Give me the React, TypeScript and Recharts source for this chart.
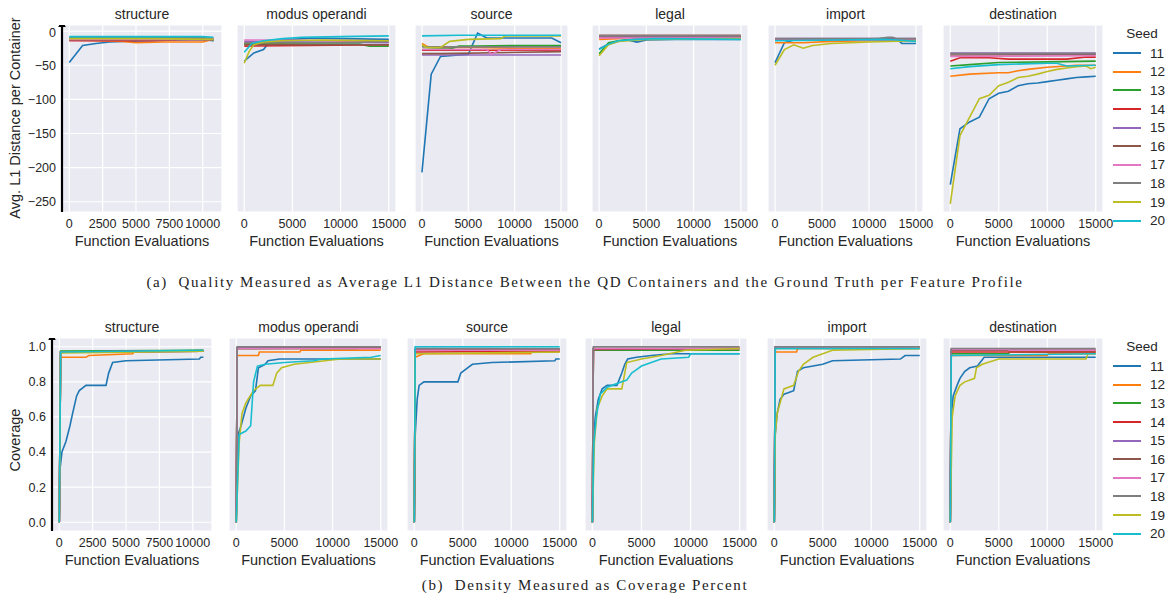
import React from "react";
import { LineChart, Line, XAxis, YAxis, CartesianGrid } from "recharts";

const seeds = [11, 12, 13, 14, 15, 16, 17, 18, 19, 20];
const seedColors = [
  "#1f77b4", "#ff7f0e", "#2ca02c", "#d62728", "#9467bd",
  "#8c564b", "#e377c2", "#7f7f7f", "#bcbd22", "#17becf",
];
const features = ["structure", "modus operandi", "source", "legal", "import", "destination"];

const xTicksStructure = [0, 2500, 5000, 7500, 10000];
const xTicksOther = [0, 5000, 10000, 15000];
const qualityTicks = [-250, -200, -150, -100, -50, 0];
const coverageTicks = [0, 0.2, 0.4, 0.6, 0.8, 1.0];

// [function evaluations, avg L1 distance], one list per seed 11..20
const qualityStructure = [
  [[0, -46], [1000, -21], [2000, -18], [3000, -16], [4000, -15], [6000, -14], [8000, -13], [9000, -12], [10000, -12], [10800, -14]],
  [[0, -13], [2000, -14], [4000, -15], [5000, -17], [7000, -16], [9000, -16], [10000, -16], [10800, -12]],
  [[0, -9], [5000, -9], [8000, -9], [10000, -9], [10800, -14]],
  [[0, -14], [3000, -14], [6000, -14], [8000, -13], [8500, -10], [10000, -11], [10800, -12]],
  [[0, -11], [10800, -11]],
  [[0, -13], [10800, -13]],
  [[0, -12], [10800, -12]],
  [[0, -10], [10800, -10]],
  [[0, -11], [6000, -11], [10800, -12]],
  [[0, -8], [10000, -8], [10800, -9]],
];
const qualityModus = [
  [[0, -44], [1000, -32], [2000, -27], [2500, -18], [3000, -14], [5000, -12], [7000, -10], [10000, -11], [15000, -12]],
  [[0, -18], [3000, -18], [6000, -17], [10000, -16], [15000, -16]],
  [[0, -19], [5000, -19], [10000, -19], [12000, -19], [13000, -22], [15000, -22]],
  [[0, -22], [15000, -20]],
  [[0, -15], [15000, -17]],
  [[0, -20], [15000, -20]],
  [[0, -13], [15000, -14]],
  [[0, -17], [10000, -17], [15000, -15]],
  [[0, -47], [500, -30], [1000, -20], [2000, -16], [4000, -14], [8000, -13], [15000, -14]],
  [[0, -31], [800, -18], [2000, -14], [4000, -11], [6000, -9], [10000, -8], [15000, -7]],
];
const qualitySource = [
  [[0, -207], [1000, -63], [2000, -37], [3000, -36], [4000, -35], [5000, -34], [6000, -3], [7000, -10], [10000, -10], [14000, -10], [15000, -17]],
  [[0, -18], [500, -22], [1000, -24], [3000, -24], [6000, -24], [10000, -25], [15000, -25]],
  [[0, -27], [3000, -26], [4000, -22], [6000, -22], [10000, -21], [15000, -21]],
  [[0, -28], [15000, -28]],
  [[0, -35], [15000, -35]],
  [[0, -33], [2000, -33], [15000, -30]],
  [[0, -27], [7000, -27], [7500, -34], [8500, -27], [15000, -27]],
  [[0, -23], [15000, -23]],
  [[0, -20], [500, -24], [2000, -24], [3000, -15], [5000, -12], [8500, -11], [9000, -7], [15000, -7]],
  [[0, -7], [4000, -6], [15000, -6]],
];
const qualityLegal = [
  [[0, -26], [1000, -19], [2000, -15], [3000, -13], [4000, -16], [5000, -13], [8000, -12], [15000, -12]],
  [[0, -12], [2000, -11], [3000, -9], [15000, -9]],
  [[0, -33], [1000, -17], [2000, -14], [4000, -11], [6000, -10], [15000, -10]],
  [[0, -8], [15000, -8]],
  [[0, -9], [15000, -9]],
  [[0, -6], [15000, -6]],
  [[0, -10], [15000, -10]],
  [[0, -7], [15000, -7]],
  [[0, -36], [1000, -20], [2000, -15], [5000, -12], [15000, -11]],
  [[0, -27], [1000, -19], [2000, -14], [4000, -12], [6000, -11], [15000, -12]],
];
const qualityImport = [
  [[0, -46], [1000, -17], [2000, -13], [6000, -12], [12000, -11], [13000, -12], [13500, -18], [15000, -18]],
  [[0, -17], [3000, -17], [6000, -15], [10000, -14], [15000, -14]],
  [[0, -13], [15000, -13]],
  [[0, -12], [15000, -12]],
  [[0, -11], [15000, -11]],
  [[0, -12], [15000, -12]],
  [[0, -13], [15000, -13]],
  [[0, -11], [11000, -11], [12000, -9], [12500, -9], [13000, -11], [15000, -11]],
  [[0, -50], [1000, -27], [2000, -20], [3000, -25], [4000, -21], [6000, -18], [10000, -16], [15000, -14]],
  [[0, -14], [12000, -12], [13000, -13], [15000, -15]],
];
const qualityDestination = [
  [[0, -225], [1000, -143], [2000, -133], [3000, -126], [4000, -99], [5000, -91], [6000, -88], [7000, -80], [8000, -77], [9000, -76], [10000, -74], [11000, -72], [12000, -70], [13000, -68], [14000, -67], [15000, -66]],
  [[0, -66], [2000, -63], [5000, -61], [6000, -61], [7000, -58], [8000, -56], [10000, -53], [12000, -51], [13000, -50], [15000, -50]],
  [[0, -51], [2000, -49], [5000, -46], [10000, -45], [15000, -44]],
  [[0, -44], [1000, -39], [4000, -39], [6000, -41], [12000, -41], [14000, -38], [15000, -38]],
  [[0, -32], [15000, -32]],
  [[0, -35], [15000, -34]],
  [[0, -37], [15000, -36]],
  [[0, -33], [15000, -33]],
  [[0, -253], [1000, -153], [2000, -126], [3000, -99], [4000, -94], [5000, -80], [6000, -75], [7000, -68], [8000, -66], [9000, -63], [10000, -59], [11000, -56], [12000, -54], [13000, -52], [14000, -51], [14500, -55], [15000, -53]],
  [[0, -55], [2000, -52], [5000, -49], [10000, -47], [11000, -47], [12000, -51], [15000, -50]],
];

// [function evaluations, coverage], one list per seed 11..20
const coverageStructure = [
  [[0, 0], [50, 0.3], [200, 0.4], [500, 0.46], [800, 0.55], [1000, 0.62], [1300, 0.72], [1500, 0.75], [2000, 0.78], [3500, 0.78], [3700, 0.85], [4000, 0.91], [5000, 0.92], [10500, 0.93], [10600, 0.94], [10800, 0.94]],
  [[0, 0], [100, 0.94], [2000, 0.94], [2200, 0.95], [5500, 0.96], [5600, 0.97], [10800, 0.98]],
  [[0, 0], [100, 0.975], [10800, 0.98]],
  [[0, 0], [100, 0.97], [10800, 0.975]],
  [[0, 0], [100, 0.97], [10800, 0.975]],
  [[0, 0], [100, 0.97], [10800, 0.975]],
  [[0, 0], [100, 0.97], [10800, 0.975]],
  [[0, 0], [100, 0.97], [10800, 0.975]],
  [[0, 0], [100, 0.965], [10800, 0.975]],
  [[0, 0], [100, 0.97], [10800, 0.98]],
];
const coverageModus = [
  [[0, 0], [200, 0.5], [500, 0.55], [1000, 0.65], [1500, 0.72], [2000, 0.75], [2300, 0.88], [3000, 0.9], [3300, 0.92], [4500, 0.93], [15000, 0.93]],
  [[0, 0], [100, 0.95], [2300, 0.95], [2400, 0.97], [6600, 0.97], [6700, 0.98], [15000, 0.98]],
  [[0, 0], [100, 0.99], [12500, 0.99], [12600, 1.0], [15000, 1.0]],
  [[0, 0], [100, 0.99], [15000, 0.99]],
  [[0, 0], [100, 0.995], [15000, 0.995]],
  [[0, 0], [100, 0.99], [15000, 0.995]],
  [[0, 0], [100, 0.99], [15000, 0.99]],
  [[0, 0], [100, 1.0], [15000, 1.0]],
  [[0, 0], [300, 0.45], [600, 0.62], [1000, 0.68], [1800, 0.75], [2500, 0.78], [3800, 0.78], [4200, 0.85], [4700, 0.88], [6000, 0.9], [10800, 0.93], [15000, 0.93]],
  [[0, 0], [300, 0.5], [1000, 0.52], [1500, 0.55], [1800, 0.8], [2200, 0.89], [3000, 0.9], [5000, 0.91], [8000, 0.92], [9000, 0.93], [14000, 0.94], [15000, 0.95]],
];
const coverageSource = [
  [[0, 0], [100, 0.5], [300, 0.7], [500, 0.78], [1000, 0.8], [4500, 0.8], [4800, 0.85], [5500, 0.88], [6000, 0.9], [8000, 0.91], [14500, 0.92], [14600, 0.93], [15000, 0.93]],
  [[0, 0], [100, 0.94], [500, 0.95], [1000, 0.96], [12000, 0.96], [12100, 0.97], [15000, 0.97]],
  [[0, 0], [100, 0.98], [8500, 0.98], [15000, 0.98]],
  [[0, 0], [100, 0.97], [15000, 0.975]],
  [[0, 0], [100, 0.99], [7500, 0.99], [15000, 0.985]],
  [[0, 0], [100, 0.985], [15000, 0.985]],
  [[0, 0], [100, 0.98], [15000, 0.98]],
  [[0, 0], [100, 0.99], [15000, 0.99]],
  [[0, 0], [100, 0.96], [15000, 0.97]],
  [[0, 0], [100, 1.0], [15000, 1.0]],
];
const coverageLegal = [
  [[0, 0], [100, 0.45], [300, 0.6], [600, 0.7], [1000, 0.76], [1500, 0.78], [2500, 0.78], [3000, 0.85], [3300, 0.9], [3600, 0.93], [4500, 0.94], [6000, 0.95], [8000, 0.96], [15000, 0.96]],
  [[0, 0], [100, 0.98], [8000, 0.98], [8100, 0.99], [15000, 0.99]],
  [[0, 0], [100, 0.98], [15000, 0.98]],
  [[0, 0], [100, 0.985], [15000, 0.99]],
  [[0, 0], [100, 0.99], [15000, 0.99]],
  [[0, 0], [100, 0.99], [15000, 0.99]],
  [[0, 0], [100, 0.99], [15000, 0.99]],
  [[0, 0], [100, 1.0], [15000, 1.0]],
  [[0, 0], [200, 0.45], [500, 0.65], [1000, 0.72], [1500, 0.76], [3000, 0.76], [3500, 0.91], [5000, 0.93], [7000, 0.95], [9500, 0.98], [15000, 0.99]],
  [[0, 0], [150, 0.45], [400, 0.6], [800, 0.73], [1500, 0.77], [2000, 0.78], [3000, 0.8], [3500, 0.81], [4000, 0.85], [4500, 0.87], [5000, 0.89], [6000, 0.91], [7000, 0.93], [9800, 0.94], [10000, 0.96], [15000, 0.96]],
];
const coverageImport = [
  [[0, 0], [100, 0.5], [300, 0.62], [600, 0.7], [1000, 0.73], [1500, 0.74], [2000, 0.75], [2400, 0.86], [3000, 0.88], [4000, 0.89], [5000, 0.9], [6000, 0.92], [13000, 0.93], [13500, 0.95], [15000, 0.95]],
  [[0, 0], [100, 0.97], [2300, 0.97], [2400, 0.99], [15000, 0.99]],
  [[0, 0], [100, 0.99], [15000, 0.99]],
  [[0, 0], [100, 1.0], [15000, 1.0]],
  [[0, 0], [100, 1.0], [15000, 1.0]],
  [[0, 0], [100, 1.0], [15000, 1.0]],
  [[0, 0], [100, 1.0], [15000, 1.0]],
  [[0, 0], [100, 1.0], [15000, 1.0]],
  [[0, 0], [100, 0.5], [300, 0.62], [700, 0.7], [1000, 0.76], [2000, 0.78], [2500, 0.86], [3000, 0.9], [4000, 0.94], [5000, 0.96], [6000, 0.98], [15000, 0.99]],
  [[0, 0], [100, 0.99], [15000, 0.99]],
];
const coverageDestination = [
  [[0, 0], [100, 0.6], [300, 0.72], [700, 0.78], [1000, 0.82], [1500, 0.86], [2000, 0.88], [2800, 0.89], [3500, 0.94], [15000, 0.94]],
  [[0, 0], [100, 0.95], [10000, 0.95], [10100, 0.96], [15000, 0.96]],
  [[0, 0], [100, 0.96], [6000, 0.96], [6100, 0.97], [15000, 0.97]],
  [[0, 0], [100, 0.97], [15000, 0.97]],
  [[0, 0], [100, 0.98], [15000, 0.98]],
  [[0, 0], [100, 0.98], [15000, 0.98]],
  [[0, 0], [100, 0.985], [6000, 0.985], [6100, 0.98], [15000, 0.98]],
  [[0, 0], [100, 0.99], [15000, 0.99]],
  [[0, 0], [200, 0.6], [500, 0.72], [1000, 0.78], [1500, 0.8], [2500, 0.82], [2700, 0.88], [3300, 0.9], [5000, 0.93], [14000, 0.93], [14200, 0.96], [15000, 0.96]],
  [[0, 0], [100, 0.95], [15000, 0.96]],
];

const qualityPanels = [qualityStructure, qualityModus, qualitySource, qualityLegal, qualityImport, qualityDestination];
const coveragePanels = [coverageStructure, coverageModus, coverageSource, coverageLegal, coverageImport, coverageDestination];

const FONT = "'Liberation Sans', Arial, sans-serif";
const INK = "#262626";

// plot-area boxes [left, right]
const topBoxes = [[62, 222], [237, 396], [415, 568], [592, 748], [768, 923], [943, 1103]];
const bottomBoxes = [[52, 212], [229, 388], [407, 567], [585, 747], [767, 927], [943, 1103]];

const minusFmt = (v: number) => (v < 0 ? "\u2212" + Math.abs(v) : String(v));

type PanelProps = {
  title: string;
  series: number[][][];
  left: number;
  right: number;
  top: number;
  bottom: number;
  first: boolean;
  structure: boolean;
  yDomain: number[];
  yTicks: number[];
  yFmt: (v: number) => string;
};

const Panel = ({ title, series, left, right, top, bottom, first, structure, yDomain, yTicks, yFmt }: PanelProps) => {
  const padL = 50;
  const padR = 24;
  const w = right - left;
  const h = bottom - top;
  return (
    <>
      <div style={{ position: "absolute", left, width: w, top: top - 19, textAlign: "center", fontFamily: FONT, fontSize: 14, color: INK }}>
        {title}
      </div>
      <div style={{ position: "absolute", left: left - padL, top }}>
        <LineChart width={w + padL + padR} height={h + 22} margin={{ top: 0, right: padR, bottom: 0, left: 0 }}>
          <CartesianGrid fill="#eaeaf2" stroke="#ffffff" strokeWidth={1.2} />
          <XAxis
            type="number"
            dataKey="x"
            domain={structure ? [-545, 11445] : [-750, 15750]}
            ticks={structure ? xTicksStructure : xTicksOther}
            allowDataOverflow
            interval={0}
            height={22}
            tickLine={false}
            axisLine={false}
            tickSize={0}
            tickMargin={7}
            tick={{ fontSize: 12.5, fill: INK, fontFamily: FONT }}
          />
          <YAxis
            type="number"
            dataKey="y"
            domain={yDomain}
            ticks={yTicks}
            allowDataOverflow
            width={padL}
            tickLine={false}
            tickSize={0}
            tickMargin={6}
            tickFormatter={yFmt}
            tick={first ? { fontSize: 12.5, fill: INK, fontFamily: FONT } : false}
            axisLine={first ? { stroke: "#000", strokeWidth: 2.2, markerStart: "url(#axisArrow)" } : false}
          />
          {series.map((pts, i) => (
            <Line
              key={seeds[i]}
              data={pts.map(([x, y]) => ({ x, y }))}
              dataKey="y"
              type="linear"
              stroke={seedColors[i]}
              strokeWidth={1.6}
              dot={false}
              activeDot={false}
              isAnimationActive={false}
            />
          ))}
        </LineChart>
      </div>
      <div style={{ position: "absolute", left: left - 20, width: w + 40, top: bottom + 21, textAlign: "center", fontFamily: FONT, fontSize: 14.5, color: INK }}>
        Function Evaluations
      </div>
    </>
  );
};

const SeedLegend = ({ top }: { top: number }) => (
  <div style={{ position: "absolute", left: 1108, top, width: 62, fontFamily: FONT, color: INK }}>
    <div style={{ fontSize: 13.5, textAlign: "center", height: 18, paddingLeft: 6 }}>Seed</div>
    {seeds.map((s, i) => (
      <div key={s} style={{ display: "flex", alignItems: "center", height: 18.6 }}>
        <div style={{ width: 28, height: 0, borderTop: `2px solid ${seedColors[i]}`, marginLeft: 5 }} />
        <div style={{ fontSize: 13.5, marginLeft: 9 }}>{s}</div>
      </div>
    ))}
  </div>
);

const Caption = ({ top, text }: { top: number; text: string }) => (
  <div style={{ position: "absolute", left: 0, width: 1170, top, textAlign: "center", fontFamily: "'Liberation Serif', 'Times New Roman', serif", fontSize: 15, letterSpacing: 1.6, color: "#222", whiteSpace: "pre" }}>
    {text}
  </div>
);

export default function App() {
  return (
    <div style={{ position: "absolute", left: 0, top: 0, width: 1170, height: 600, background: "#fff", overflow: "hidden" }}>
      <svg width={0} height={0} style={{ position: "absolute" }}>
        <defs>
          <marker id="axisArrow" viewBox="0 0 10 10" refX="3" refY="5" markerWidth="3.6" markerHeight="3.6" orient="auto-start-reverse">
            <path d="M0,0 L10,5 L0,10 z" fill="#000" />
          </marker>
        </defs>
      </svg>

      {features.map((f, i) => (
        <Panel
          key={"q" + f}
          title={f}
          series={qualityPanels[i]}
          left={topBoxes[i][0]}
          right={topBoxes[i][1]}
          top={25}
          bottom={212}
          first={i === 0}
          structure={i === 0}
          yDomain={[-265, 9]}
          yTicks={qualityTicks}
          yFmt={minusFmt}
        />
      ))}
      <div style={{ position: "absolute", left: 15, top: 118, transform: "translate(-50%, -50%) rotate(-90deg)", whiteSpace: "nowrap", fontFamily: FONT, fontSize: 14.5, color: INK }}>
        Avg. L1 Distance per Container
      </div>
      <SeedLegend top={26} />
      <Caption top={274} text="(a)  Quality Measured as Average L1 Distance Between the QD Containers and the Ground Truth per Feature Profile" />

      {features.map((f, i) => (
        <Panel
          key={"c" + f}
          title={f}
          series={coveragePanels[i]}
          left={bottomBoxes[i][0]}
          right={bottomBoxes[i][1]}
          top={338}
          bottom={531}
          first={i === 0}
          structure={i === 0}
          yDomain={[-0.05, 1.05]}
          yTicks={coverageTicks}
          yFmt={(v: number) => v.toFixed(1)}
        />
      ))}
      <div style={{ position: "absolute", left: 15, top: 440, transform: "translate(-50%, -50%) rotate(-90deg)", whiteSpace: "nowrap", fontFamily: FONT, fontSize: 14.5, color: INK }}>
        Coverage
      </div>
      <SeedLegend top={339} />
      <Caption top={577} text="(b)  Density Measured as Coverage Percent" />
    </div>
  );
}
